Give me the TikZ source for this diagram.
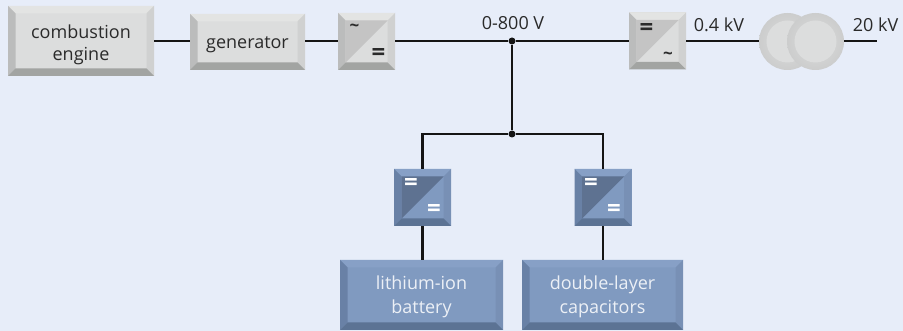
\documentclass[tikz,border=0pt]{standalone}
\usepackage{fontspec}
\setmainfont{Open Sans}
\usetikzlibrary{calc}
\usetikzlibrary{positioning}

\definecolor{panelbg}{HTML}{E7EDF9}
\definecolor{wire}{HTML}{151515}
\definecolor{labeltext}{HTML}{2A2A2A}
% grey set
\definecolor{gface}{HTML}{DCDDDD}
\definecolor{gtop}{HTML}{E3E4E3}
\definecolor{gleft}{HTML}{BBBCBC}
\definecolor{gright}{HTML}{D0D1D1}
\definecolor{gbottom}{HTML}{A2A4A2}
\definecolor{gdark}{HTML}{C4C4C4}
% blue set
\definecolor{bface}{HTML}{809AC0}
\definecolor{btop}{HTML}{87A0C6}
\definecolor{bleft}{HTML}{6981A6}
\definecolor{bright}{HTML}{7890B5}
\definecolor{bbottom}{HTML}{5C7394}
\definecolor{bdark}{HTML}{5E7291}

\newcommand{\bevelfaces}[4]{
	\coordinate (nw) at (path picture bounding box.north west);
	\coordinate (ne) at (path picture bounding box.north east);
	\coordinate (sw) at (path picture bounding box.south west);
	\coordinate (se) at (path picture bounding box.south east);
	\coordinate (inw) at ($(nw)+(7.5pt,-7.5pt)$);
	\coordinate (ine) at ($(ne)+(-7.5pt,-7.5pt)$);
	\coordinate (isw) at ($(sw)+(7.5pt,7.5pt)$);
	\coordinate (ise) at ($(se)+(-7.5pt,7.5pt)$);
	\fill[#1] (nw) -- (ne) -- (ine) -- (inw) -- cycle;
	\fill[#2] (nw) -- (sw) -- (isw) -- (inw) -- cycle;
	\fill[#3] (ne) -- (se) -- (ise) -- (ine) -- cycle;
	\fill[#4] (sw) -- (se) -- (ise) -- (isw) -- cycle;
}
\newcommand{\dropstrut}[1]{\rule{0pt}{#1pt}}

\tikzset{
	greybox/.style={rectangle, inner sep=0pt, align=center, fill=gface, text=labeltext,
		path picture={\bevelfaces{gtop}{gleft}{gright}{gbottom}}},
	bluebox/.style={rectangle, inner sep=0pt, align=center, fill=bface, text=white!85!bface,
		font=\fontsize{18pt}{24pt}\selectfont,
		path picture={\bevelfaces{btop}{bleft}{bright}{bbottom}}},
	greyconv/.style={greybox, minimum width=57pt, minimum height=57pt,
		path picture={\bevelfaces{gtop}{gleft}{gright}{gbottom}
			\fill[gdark] (inw) -- (ine) -- (isw) -- cycle;}},
	blueconv/.style={bluebox, minimum width=57pt, minimum height=57pt,
		path picture={\bevelfaces{btop}{bleft}{bright}{bbottom}
			\fill[bdark] (inw) -- (ine) -- (isw) -- cycle;}},
	trafo/.style={circle, inner sep=0pt, minimum size=57pt, draw=none,
		outer color=gleft!75!white, inner color=gface,
		path picture={\fill[gface] (path picture bounding box.center) circle (21pt);}},
	junction/.style={circle, fill=wire, inner sep=0pt, minimum size=7pt},
	wirelabel/.style={text=labeltext, inner sep=0pt},
	symb/.style={inner sep=0pt, font=\fontsize{24pt}{24pt}\selectfont\bfseries},
	tilde/.style={inner sep=0pt, font=\fontsize{17pt}{17pt}\selectfont\bfseries},
	wireline/.style={draw=wire, line width=2.4pt}
}

\begin{document}
\begin{tikzpicture}[x=1pt, y=-1pt, every node/.append style={font=\fontsize{18pt}{22pt}\selectfont}]

	\fill[panelbg] (0,0) rectangle (903,331);
	\useasboundingbox (0,0) rectangle (903,331);

	\node[greybox, minimum width=146pt, minimum height=70pt] (engine) at (81,41) {\dropstrut{21}combustion\\engine};
	\node[greybox, minimum width=115pt, minimum height=56pt] (gen) at (247.5,42) {\dropstrut{18}generator};
	\node[greyconv] (conv1) at (366.5,41.5) {};
	\node[greyconv] (conv2) at (657.5,41) {};
	\node[blueconv] (conv3) at (422.5,197.5) {};
	\node[blueconv] (conv4) at (603,197.5) {};
	\node[bluebox, minimum width=163pt, minimum height=70pt] (battery) at (421.5,295) {\dropstrut{18}lithium-ion\\battery};
	\node[bluebox, minimum width=161pt, minimum height=70pt] (caps) at (602.5,295) {\dropstrut{18}double-layer\\capacitors};

	\node[trafo] (tr1) at (787.5,41.5) {};
	\node[trafo] (tr2) at (815.5,41.5) {};
	\coordinate (grid) at (877,41);

	\node[junction] (j1) at (512,41) {};
	\node[junction] (j2) at (512,134) {};

	\node[wirelabel] (lbl800) at (513,23) {0-800 V};
	\node[wirelabel] (lbl04) at (719,25) {0.4 kV};
	\node[wirelabel] (lbl20) at (875.5,25) {20 kV};

	% converter symbols
	\node[tilde, text=labeltext] (s1) at (354.5,28) {\char"7E};
	\node[symb, text=labeltext] (s2) at (378.5,55) {=};
	\node[symb, text=labeltext] (s3) at (646.5,29.5) {=};
	\node[tilde, text=labeltext] (s4) at (668,56) {\char"7E};
	\node[symb, text=white] (s5) at (411,184.5) {=};
	\node[symb, text=white] (s6) at (434,210.5) {=};
	\node[symb, text=white] (s7) at (591,184.5) {=};
	\node[symb, text=white] (s8) at (614,210.5) {=};

	% top line
	\draw[wireline] (engine.east |- 0,41) -- (gen.west |- 0,41);
	\draw[wireline] (gen.east |- 0,41) -- (conv1.west |- 0,41);
	\draw[wireline] (conv1.east |- 0,41) -- (j1);
	\draw[wireline] (j1) -- (conv2.west |- 0,41);
	\draw[wireline] (conv2.east |- 0,41) -- (tr1.west |- 0,41);
	\draw[wireline] (tr2.east |- 0,41) -- (grid);
	% storage branch
	\draw[wireline] (j1) -- (j2);
	\draw[wireline] (j2) -| (conv3.north);
	\draw[wireline] (j2) -| (conv4.north);
	\draw[wireline] (conv3.south) -- (conv3.south |- battery.north);
	\draw[wireline] (conv4.south) -- (conv4.south |- caps.north);

\end{tikzpicture}
\end{document}
